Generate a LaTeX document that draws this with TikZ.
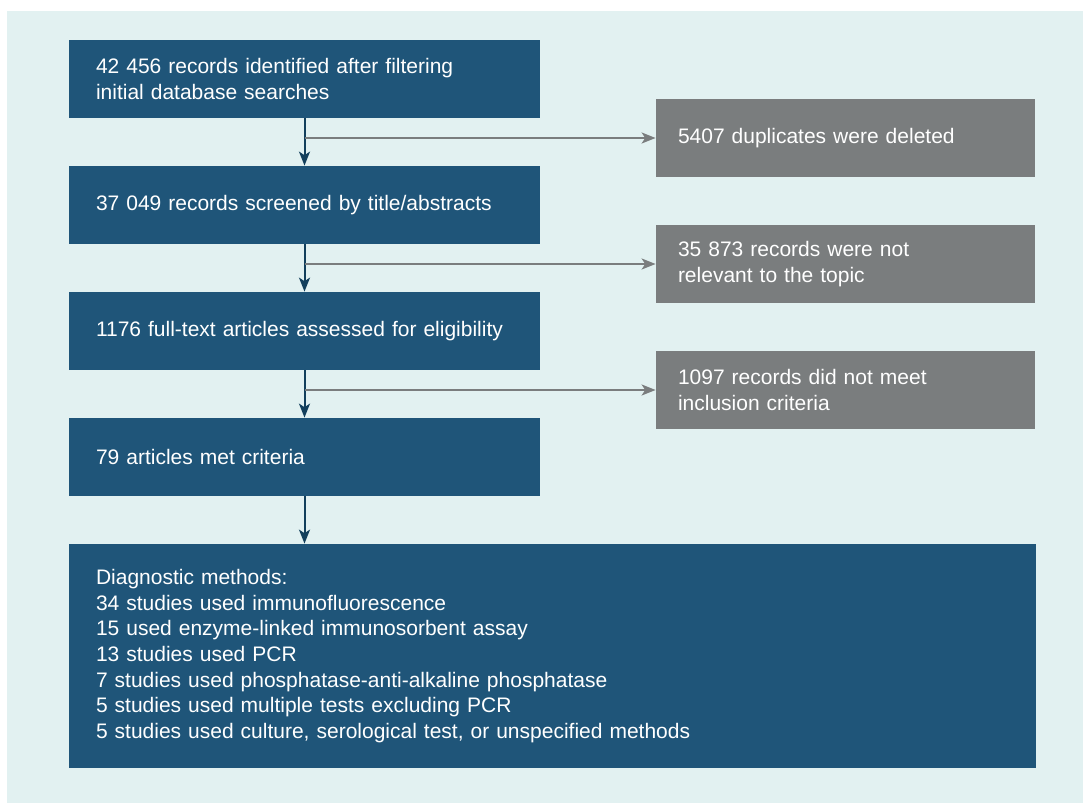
\documentclass[tikz,border=0pt]{standalone}
\usepackage{fontspec}
\setmainfont{Liberation Sans}
\usetikzlibrary{arrows.meta}
\definecolor{bgcyan}{HTML}{E2F1F1}
\definecolor{stepblue}{HTML}{1F5579}
\definecolor{dropgray}{HTML}{7A7D7E}
\definecolor{arrowblue}{HTML}{123F5C}
\newcommand{\flowfont}{\fontsize{10.5}{12.8}\selectfont}
\tikzset{stage/.style={fill=stepblue,text=white,font=\flowfont,align=left,
    inner xsep=13.5pt,inner ysep=0pt,text width=#1,minimum height=39pt},
  stage/.default=208.5pt}
\tikzset{excluded/.style={fill=dropgray,text=white,font=\flowfont,align=left,
    inner xsep=11pt,inner ysep=0pt,text width=167.5pt,minimum height=39pt}}
\tikzset{mainarrow/.style={draw=arrowblue,line width=1pt,
    -{Stealth[length=7pt,width=5.5pt,inset=1.8pt]}}}
\tikzset{sidearrow/.style={draw=dropgray,line width=1pt,
    -{Stealth[length=7pt,width=5.5pt,inset=1.8pt]}}}

\begin{document}
\begin{tikzpicture}[x=0.5pt,y=-0.5pt]
	\useasboundingbox (0,0) rectangle (1083,803);
	\fill [bgcyan] (7,11) rectangle (1083,803);

	% screening stages
	\node [stage] (s1) at (304.5,79) {42 456 records identified after filtering\\initial database searches};
	\node [stage] (s2) at (304.5,205) {37 049 records screened by title/abstracts};
	\node [stage] (s3) at (304.5,331) {1176 full-text articles assessed for eligibility};
	\node [stage] (s4) at (304.5,457) {79 articles met criteria};
	\node [stage=456.5pt,minimum height=112pt] (s5) at (552.5,656) {Diagnostic methods:\\
		34 studies used immunofluorescence\\
		15 used enzyme-linked immunosorbent assay\\
		13 studies used PCR\\
		7 studies used phosphatase-anti-alkaline phosphatase\\
		5 studies used multiple tests excluding PCR\\
		5 studies used culture, serological test, or unspecified methods};

	% removed records
	\node [excluded] (d1) at (845.5,138) {5407 duplicates were deleted};
	\node [excluded] (d2) at (845.5,264) {35 873 records were not\\relevant to the topic};
	\node [excluded] (d3) at (845.5,390) {1097 records did not meet\\inclusion criteria};

	\draw [mainarrow] (s1) -- (s2);
	\draw [mainarrow] (s2) -- (s3);
	\draw [mainarrow] (s3) -- (s4);
	\draw [mainarrow] (s4.south) -- (s4.south |- s5.north);
	\draw [sidearrow] (s1.south |- d1.west) -- (d1.west);
	\draw [sidearrow] (s2.south |- d2.west) -- (d2.west);
	\draw [sidearrow] (s3.south |- d3.west) -- (d3.west);
\end{tikzpicture}
\end{document}
